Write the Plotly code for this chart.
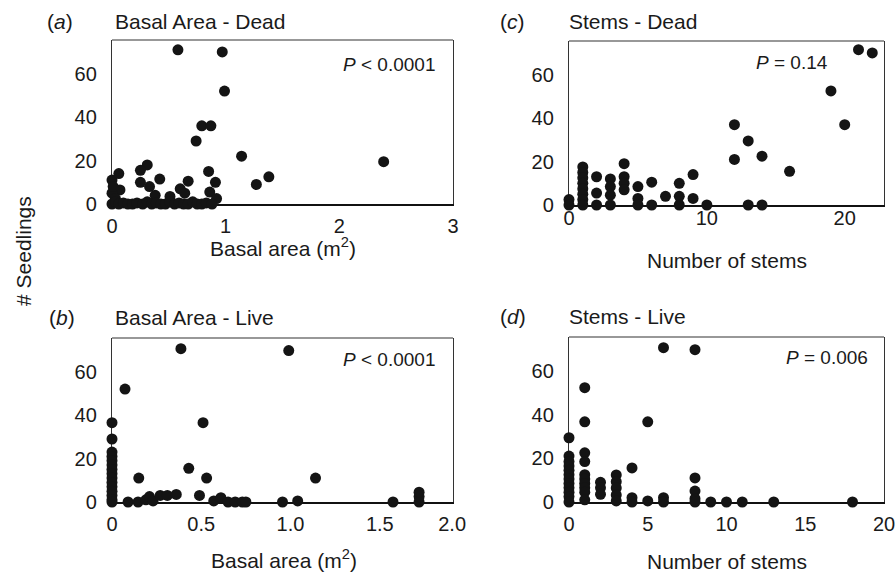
import plotly.graph_objects as go

# ---------------- data ----------------
a_x = [0.58, 0.97, 0.99, 0.79, 0.87, 0.74, 1.14, 2.39, 1.27, 1.38,
       0.85, 0.91, 0.86, 0.92, 0.67, 0.60, 0.64, 0.42, 0.31, 0.25,
       0.25, 0.33, 0.00, 0.06, 0.07, 0.00, 0.38, 0.51, 0.01, 0.03,
       0.00, 0.03, 0.06, 0.10, 0.14, 0.18, 0.22, 0.27, 0.31, 0.35,
       0.39, 0.43, 0.47, 0.51, 0.55, 0.59, 0.63, 0.67, 0.71, 0.75,
       0.79, 0.83, 0.88]
a_y = [71, 70, 52, 36, 36, 29, 22, 19.5, 9, 12.5,
       15, 10, 5.5, 2.5, 10.5, 7, 5, 11.5, 18, 15.5,
       10, 8, 11, 14, 6.5, 5, 4, 3.5, 8, 2.5,
       0, 1, 0, 0.5, 0, 0, 0.5, 0, 1, 0,
       0.5, 0, 0, 1, 0, 0.5, 0, 0, 1, 0,
       0, 0.5, 0]

b_x = [0.386, 0.99, 0.073, 0.0, 0.0, 0.51, 0.43, 0.53, 0.15, 1.14,
       0.0, 0.0, 0.0, 0.0, 0.0, 0.0, 0.0, 0.0, 0.0, 0.0, 0.0, 0.0, 0.0,
       0.09, 0.146, 0.19, 0.21, 0.23, 0.27, 0.31, 0.36, 0.49, 0.57,
       0.61, 0.65, 0.69, 0.73, 0.75, 0.955, 1.04, 1.574, 1.72, 1.72, 1.72]
b_y = [70.6, 69.7, 52, 36.5, 29, 36.5, 15.5, 11, 11, 11,
       23, 21, 19, 17, 15, 13, 11, 9, 7, 5, 3, 1, 0,
       0, 0, 1, 2.5, 0.5, 3, 3, 3.5, 3, 0.5,
       2, 0, 0, 0, 0, 0, 0.5, 0, 0, 2.5, 4.5]

c_x = [21, 22, 19, 20, 12, 12, 13, 14, 16, 13, 14, 9, 9, 10, 8, 8, 8, 7,
       6, 6, 5, 5, 5, 4, 4, 4, 4, 3, 3, 3, 3, 2, 2, 2,
       1, 1, 1, 1, 1, 1, 1, 1, 0, 0]
c_y = [71.5, 70, 52.5, 37, 37, 21, 29.5, 22.5, 15.5, 0, 0, 14, 3, 0, 10, 4, 0, 4,
       10.5, 0, 8.5, 3, 0, 19, 13, 10, 7, 12, 8.5, 4.5, 0, 13, 5.5, 0,
       17.5, 15, 12.5, 10, 7.5, 5, 2.5, 0, 2.5, 0]

d_x = [6, 8, 1, 1, 5, 0, 4, 8, 8, 8, 8,
       0, 0, 0, 0, 0, 0, 0, 0, 0, 0, 0,
       1, 1, 1, 1, 1, 1, 1, 1,
       2, 2, 2, 3, 3, 3, 3, 3, 4, 4, 5, 6, 6, 9, 10, 11, 13, 18]
d_y = [70.6, 69.7, 52.3, 36.7, 36.7, 29.4, 15.6, 11, 5, 1.5, 0,
       21, 18.5, 16.5, 14.5, 12.5, 10.5, 8.5, 6.5, 4.5, 2.5, 0,
       22.5, 18.5, 12.5, 10.5, 8.5, 6.5, 4.5, 1,
       9, 6.5, 3.5, 12.4, 9.3, 6.4, 3.2, 0.5, 2, 0, 0.5, 2, 0, 0, 0, 0, 0, 0]

y_ticks = [0, 20, 40, 60]
a_ticks = [0, 1, 2, 3]
b_ticks = [0, 0.5, 1.0, 1.5, 1.905]
b_ticktext = ["0", "0.5", "1.0", "1.5", "2.0"]
c_ticks = [0, 10, 20]
d_ticks = [0, 5, 10, 15, 20]

# ---------------- figure ----------------
W, H = 895, 574
FONT = "Liberation Sans, Arial, Helvetica, sans-serif"
TXT = "#1a1a1a"

def px(x):
    return x / W

def py(y):
    return 1 - y / H

fig = go.Figure()
marker = dict(size=11, color="#141414", line=dict(width=0))
for xs, ys, xa, ya in [(a_x, a_y, "x", "y"), (b_x, b_y, "x3", "y3"),
                       (c_x, c_y, "x2", "y2"), (d_x, d_y, "x4", "y4")]:
    fig.add_trace(go.Scatter(x=xs, y=ys, mode="markers", marker=marker,
                             xaxis=xa, yaxis=ya, cliponaxis=False,
                             showlegend=False, hoverinfo="skip"))

# panel frames in pixels: (left, right, top, bottom)
frames = {
    "": (112, 453, 40, 204),
    "2": (569, 884, 41, 205),
    "3": (112, 453, 338, 502),
    "4": (569, 884, 337, 502),
}
xr = {"": [0, 3], "2": [0, 22.85], "3": [0, 1.91], "4": [0, 20]}
xt = {"": (a_ticks, None), "2": (c_ticks, None), "3": (b_ticks, b_ticktext), "4": (d_ticks, None)}
xstand = {"": 3, "2": -6, "3": 3, "4": 3}

tickfont = dict(family=FONT, size=20, color=TXT)
for k, (l, r, t, b) in frames.items():
    tv, tt = xt[k]
    xax = dict(domain=[px(l), px(r)], range=xr[k], anchor="y" + k,
               showgrid=False, zeroline=False, showline=True, linecolor="#111",
               linewidth=2, mirror=False, ticks="", tickvals=tv,
               ticklabelstandoff=xstand[k], automargin=False,
               ticklabeloverflow="allow",
               tickfont=tickfont, layer="below traces", fixedrange=True)
    if tt:
        xax["ticktext"] = tt
    yax = dict(domain=[py(b), py(t)], range=[0, 75.5], anchor="x" + k,
               showgrid=False, zeroline=False, showline=True, linecolor="#333",
               linewidth=1.2, mirror=True, ticks="", tickvals=y_ticks,
               ticklabelstandoff=10, automargin=False,
               ticklabeloverflow="allow",
               tickfont=tickfont, layer="below traces", fixedrange=True)
    fig.layout["xaxis" + k] = xax
    fig.layout["yaxis" + k] = yax
    # top edge of frame
    fig.add_shape(type="line", xref=f"x{k} domain", yref=f"y{k} domain",
                  x0=0, x1=1, y0=1, y1=1, line=dict(color="#333", width=1.2))

def ann(text, x, y, xanchor="left", size=21, textangle=0):
    fig.add_annotation(text=text, x=px(x), y=py(y), xref="paper", yref="paper",
                       xanchor=xanchor, yanchor="middle", showarrow=False,
                       textangle=textangle, borderpad=0,
                       font=dict(family=FONT, size=size, color=TXT))

# panel letters and titles
ann("(<i>a</i>)", 46, 21)
ann("Basal Area - Dead", 114, 21)
ann("(<i>c</i>)", 499, 21)
ann("Stems - Dead", 568, 21)
ann("(<i>b</i>)", 48, 317)
ann("Basal Area - Live", 114, 317)
ann("(<i>d</i>)", 499, 316)
ann("Stems - Live", 568, 316)

# axis titles
ann("Basal area (m<sup>2</sup>)", 283, 247, xanchor="center")
ann("Number of stems", 727, 260, xanchor="center")
ann("Basal area (m<sup>2</sup>)", 284, 559, xanchor="center")
ann("Number of stems", 727, 561, xanchor="center")
ann("# Seedlings", 23, 251, xanchor="center", textangle=-90)

# P values
ann("<i>P</i> < 0.0001", 342, 65, size=19)
ann("<i>P</i> = 0.14", 755, 62, size=19)
ann("<i>P</i> < 0.0001", 342, 359, size=19)
ann("<i>P</i> = 0.006", 785, 357, size=19)

fig.update_layout(width=W, height=H, margin=dict(l=0, r=0, t=0, b=0),
                  paper_bgcolor="white", plot_bgcolor="white",
                  font=dict(family=FONT, color=TXT))

fig.write_html(
    "out.html",
    config={"displayModeBar": False, "staticPlot": True},
    post_script="document.body.style.margin='0';document.body.style.padding='0';"
                "document.body.style.overflow='hidden';",
)
